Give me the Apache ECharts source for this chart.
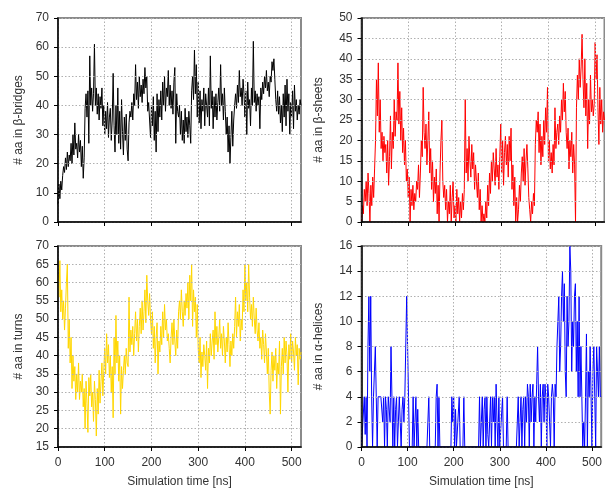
<!DOCTYPE html>
<html>
<head>
<meta charset="utf-8">
<script src="https://cdn.jsdelivr.net/npm/echarts@6/dist/echarts.min.js"></script>
<style>
html,body{margin:0;padding:0;background:#fff;}
#chart{width:605px;height:489px;}
</style>
</head>
<body>
<div id="chart"></div>
<script>
// sampling step of the series (ns)
const T_STEP = 2;
const xTicks = [0, 100, 200, 300, 400, 500];
const xTitle = 'Simulation time [ns]';
const yTitles = ['# aa in \u03b2-bridges', '# aa in \u03b2-sheets', '# aa in turns', '# aa in \u03b1-helices'];

const bridges = [
  6, 13, 8, 14, 11, 16, 19, 17, 22, 18,
  24, 19, 23, 21, 27, 20, 30, 23, 34, 25,
  27, 22, 30, 24, 28, 19, 26, 15, 22, 39,
  44, 36, 45, 27, 57, 40, 46, 38, 44, 61,
  40, 46, 37, 44, 35, 43, 39, 46, 33, 40,
  30, 38, 32, 41, 29, 36, 39, 28, 35, 51,
  33, 24, 40, 30, 46, 27, 38, 25, 42, 31,
  23, 36, 28, 37, 25, 21, 34, 38, 36, 41,
  35, 44, 40, 54, 42, 48, 39, 50, 43, 47,
  41, 49, 44, 53, 46, 50, 38, 41, 35, 29,
  40, 33, 43, 28, 38, 24, 44, 31, 42, 36,
  45, 35, 48, 40, 50, 38, 46, 43, 52, 40,
  47, 39, 45, 37, 48, 53, 27, 44, 38, 36,
  40, 30, 38, 28, 35, 27, 39, 31, 36, 29,
  38, 33, 27, 45, 50, 42, 59, 44, 54, 36,
  48, 34, 45, 32, 42, 38, 46, 33, 44, 40,
  36, 46, 33, 57, 39, 45, 32, 43, 36, 44,
  35, 41, 46, 38, 54, 40, 44, 35, 46, 38,
  30, 36, 24, 33, 20, 29, 38, 26, 35, 40,
  44, 39, 47, 41, 52, 43, 46, 40, 49, 44,
  36, 45, 30, 48, 39, 42, 33, 46, 40, 62,
  41, 45, 38, 44, 40, 43, 32, 46, 42, 48,
  44, 50, 46, 52, 45, 48, 43, 50, 48, 55,
  52, 56, 49, 42, 38, 45, 37, 43, 34, 40,
  31, 44, 36, 47, 33, 49, 38, 44, 30, 41,
  36, 45, 32, 47, 38, 42, 35, 40, 37, 42,
  40
];

const sheets = [
  0, 4, 2, 8, 5, 10, 4, 12, 7, 0,
  9, 4, 11, 6, 13, 20, 35, 26, 39, 22,
  30, 18, 22, 15, 21, 17, 19, 12, 20, 9,
  16, 26, 13, 22, 18, 30, 21, 27, 25, 39,
  24, 32, 20, 28, 17, 23, 14, 20, 10, 13,
  6, 11, 0, 8, 4, 9, 3, 7, 5, 10,
  8, 14, 6, 12, 20, 16, 33, 22, 18, 24,
  14, 20, 27, 12, 18, 8, 15, 5, 11, 7,
  13, 2, 9, 0, 12, 20, 25, 10, 6, 9,
  3, 8, 0, 5, 2, 9, 0, 6, 10, 1,
  4, 0, 8, 2, 6, 0, 5, 1, 7, 3,
  8, 30, 12, 18, 10, 21, 15, 11, 19, 13,
  17, 8, 14, 10, 6, 12, 3, 8, 0, 4,
  0, 2, 0, 5, 1, 9, 4, 12, 7, 15,
  10, 17, 13, 9, 18, 11, 14, 8, 16, 24,
  12, 20, 9, 17, 21, 14, 19, 11, 21, 15,
  23, 8, 14, 4, 11, 0, 6, 0, 3, 9,
  5, 12, 16, 10, 18, 9, 15, 19, 13, 6,
  3, 0, 5, 2, 7, 4, 19, 25, 22, 27,
  17, 24, 14, 21, 16, 25, 19, 28, 22, 33,
  15, 20, 13, 17, 12, 19, 14, 28, 18, 22,
  24, 19, 26, 22, 30, 25, 34, 27, 32, 22,
  18, 23, 13, 20, 16, 22, 12, 19, 14, 0,
  28, 36, 30, 40, 33, 38, 46, 35, 28, 40,
  26, 34, 18, 30, 24, 36, 27, 30, 26, 29,
  44, 35, 41, 28, 19, 33, 24, 30, 22, 27,
  25
];

const turns = [
  62, 56, 66, 52, 58, 50, 55, 47, 53, 60,
  65, 42, 50, 38, 45, 31, 40, 33, 37, 28,
  35, 30, 38, 28, 33, 30, 35, 26, 31, 20,
  33, 27, 19, 34, 29, 35, 26, 30, 22, 33,
  28, 18, 31, 24, 36, 27, 33, 38, 29, 36,
  42, 35, 46, 38, 43, 34, 40, 30, 37, 23,
  45, 35, 51, 38, 44, 33, 40, 24, 37, 31,
  36, 40, 35, 42, 38, 37, 56, 41, 47, 43,
  48, 40, 46, 52, 44, 50, 41, 48, 53, 46,
  55, 47, 52, 58, 49, 62, 55, 51, 57, 50,
  46, 52, 42, 48, 38, 45, 49, 35, 44, 41,
  48, 43, 52, 45, 54, 47, 50, 44, 46, 42,
  38, 45, 49, 43, 50, 44, 40, 47, 42, 52,
  55, 50, 58, 52, 48, 55, 51, 57, 53, 60,
  50, 62, 55, 65, 48, 58, 52, 56, 45, 54,
  42, 38, 45, 34, 41, 37, 43, 40, 36, 44,
  31, 42, 38, 46, 40, 44, 47, 39, 52, 43,
  48, 41, 45, 50, 42, 46, 40, 48, 44, 38,
  45, 41, 49, 43, 37, 44, 40, 46, 42, 48,
  56, 45, 52, 48, 54, 44, 50, 47, 58, 52,
  65, 55, 60, 52, 65, 56, 50, 54, 48, 56,
  50, 46, 53, 47, 44, 49, 42, 45, 39, 47,
  43, 38, 46, 41, 35, 42, 30, 24, 36, 41,
  33, 40, 36, 42, 31, 38, 35, 44, 24, 37,
  42, 35, 45, 38, 44, 40, 30, 43, 39, 46,
  38, 44, 41, 36, 45, 40, 43, 32, 42, 39,
  41
];

const helices = [
  0, 0, 0, 4, 1, 4, 0, 8, 12, 6,
  12, 4, 0, 4, 4, 8, 4, 0, 4, 4,
  4, 4, 4, 2, 4, 0, 4, 3, 0, 4,
  4, 2, 8, 4, 0, 4, 0, 3, 4, 0,
  2, 4, 4, 0, 3, 4, 2, 4, 4, 12,
  8, 4, 0, 0, 0, 0, 4, 0, 0, 4,
  0, 3, 0, 0, 0, 0, 0, 0, 0, 0,
  0, 0, 0, 4, 0, 0, 0, 0, 0, 0,
  0, 4, 5, 0, 4, 0, 0, 0, 0, 0,
  0, 0, 0, 0, 0, 0, 0, 0, 4, 2,
  4, 0, 3, 0, 0, 0, 4, 0, 0, 0,
  0, 4, 0, 0, 0, 0, 0, 0, 0, 0,
  0, 0, 0, 0, 0, 0, 0, 0, 4, 0,
  2, 4, 0, 3, 4, 0, 4, 1, 0, 2,
  4, 0, 4, 2, 4, 0, 5, 2, 0, 4,
  0, 0, 0, 4, 0, 0, 0, 0, 4, 0,
  0, 0, 0, 0, 0, 0, 0, 0, 0, 0,
  4, 0, 2, 4, 0, 3, 4, 0, 4, 2,
  5, 4, 0, 5, 2, 4, 5, 0, 4, 2,
  5, 8, 4, 2, 5, 0, 4, 5, 2, 5,
  4, 0, 5, 4, 2, 0, 4, 5, 4, 0,
  5, 4, 8, 10, 12, 6, 8, 12, 14, 10,
  13, 6, 4, 12, 8, 10, 16, 14, 6, 10,
  8, 12, 13, 6, 10, 4, 12, 4, 8, 4,
  0, 2, 0, 4, 9, 0, 6, 4, 8, 4,
  0, 6, 8, 4, 0, 8, 6, 4, 8, 4,
  4
];

const seriesData = [bridges, sheets, turns, helices];
const colors = ['#000000', '#ff0000', '#ffd700', '#0000ff'];
const yRanges = [[0, 70, 10], [0, 50, 5], [15, 70, 5], [0, 16, 2]];

const grids = [
  {left: 58, top: 18, width: 243, height: 204},
  {left: 361.5, top: 18, width: 243, height: 204},
  {left: 58, top: 246, width: 243, height: 202},
  {left: 361.5, top: 246, width: 243, height: 202}
];
const nameGaps = [33, 37, 33, 37];

const font = 'Liberation Sans, Arial, sans-serif';

function pairs(arr) { return arr.map((v, i) => [i * T_STEP, v]); }

const option = {
  animation: false,
  backgroundColor: '#fff',
  grid: grids.map(g => Object.assign({show: true, borderColor: '#8a8a8a', borderWidth: 2, backgroundColor: 'transparent'}, g)),
  xAxis: grids.map((g, i) => ({
    type: 'value', gridIndex: i, min: 0, max: 520, interval: 100, z: 3,
    name: i >= 2 ? xTitle : '', nameLocation: 'middle', nameGap: 29,
    nameTextStyle: {fontFamily: font, fontSize: 12, color: '#333'},
    axisLine: {show: true, lineStyle: {color: '#000', width: 1.5}},
    axisTick: {show: true, length: 4, lineStyle: {color: '#000', width: 1}, customValues: xTicks},
    axisLabel: {show: i >= 2, fontFamily: font, fontSize: 12, color: '#333', margin: 10, customValues: xTicks},
    splitLine: {show: true, lineStyle: {color: '#b0b0b0', width: 1, type: [1.5, 2]}}
  })),
  yAxis: grids.map((g, i) => ({
    type: 'value', gridIndex: i, min: yRanges[i][0], max: yRanges[i][1], interval: yRanges[i][2], z: 3,
    name: yTitles[i], nameLocation: 'middle', nameGap: nameGaps[i], nameRotate: 90,
    nameTextStyle: {fontFamily: font, fontSize: 12, color: '#333'},
    axisLine: {show: true, lineStyle: {color: '#000', width: 1.5}},
    axisTick: {show: true, length: 4, lineStyle: {color: '#000', width: 1}},
    axisLabel: {fontFamily: font, fontSize: 12, color: '#333', margin: 9},
    splitLine: {show: true, lineStyle: {color: '#b0b0b0', width: 1, type: [1.5, 2]}}
  })),
  series: seriesData.map((d, i) => ({
    type: 'line', xAxisIndex: i, yAxisIndex: i, data: pairs(d),
    showSymbol: false, symbol: 'none', z: 2,
    lineStyle: {color: colors[i], width: 1},
    silent: true, clip: true
  }))
};

const chart = echarts.init(document.getElementById('chart'), null, {renderer: 'canvas'});
chart.setOption(option);
</script>
</body>
</html>
